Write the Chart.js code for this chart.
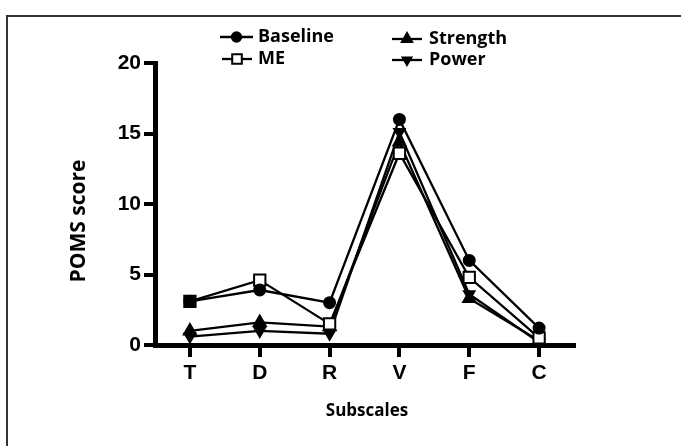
<!DOCTYPE html>
<html>
<head>
<meta charset="utf-8">
<script src="https://cdn.jsdelivr.net/npm/chart.js@4.4.1/dist/chart.umd.min.js"></script>
<style>
  html, body { margin: 0; padding: 0; background: #fff; }
  #wrap { position: relative; width: 681px; height: 446px; }
  canvas { display: block; }
</style>
</head>
<body>
<div id="wrap"><canvas id="c" width="681" height="446"></canvas></div>
<script>
const categories = ['T', 'D', 'R', 'V', 'F', 'C'];
const seriesNames = ['Baseline', 'ME', 'Strength', 'Power'];
const baseline = [3.1, 3.9, 3.0, 16.0, 6.0, 1.2];
const me       = [3.1, 4.6, 1.5, 13.6, 4.8, 0.5];
const strength = [1.0, 1.6, 1.3, 14.4, 3.3, 0.3];
const power    = [0.6, 1.0, 0.8, 15.1, 3.6, 0.2];
const yTicks = [0, 5, 10, 15, 20];
const xTitle = 'Subscales';
const yTitle = 'POMS score';

const styles = [
  { pointStyle: 'circle',   pointRadius: 5.5, bg: '#000', rot: 0 },
  { pointStyle: 'rect',     pointRadius: 8,   bg: '#fff', rot: 0 },
  { pointStyle: 'triangle', pointRadius: 7,   bg: '#000', rot: 0 },
  { pointStyle: 'triangle', pointRadius: 6,   bg: '#000', rot: 180 }
];
const values = [baseline, me, strength, power];

const datasets = values.map((v, i) => ({
  label: seriesNames[i],
  data: v,
  borderColor: '#000',
  borderWidth: 2.3,
  pointStyle: styles[i].pointStyle,
  pointRadius: styles[i].pointRadius,
  pointHoverRadius: styles[i].pointRadius,
  pointBackgroundColor: styles[i].bg,
  pointBorderColor: '#000',
  pointBorderWidth: 2,
  pointRotation: styles[i].rot,
  tension: 0,
  fill: false
}));

const decor = {
  id: 'decor',
  beforeDraw(chart) {
    const ctx = chart.ctx;
    ctx.save();
    ctx.strokeStyle = '#333';
    ctx.lineWidth = 2;
    ctx.beginPath();
    ctx.moveTo(7, 446);
    ctx.lineTo(7, 16);
    ctx.lineTo(681, 16);
    ctx.stroke();
    ctx.restore();
  },
  afterDraw(chart) {
    const ctx = chart.ctx;
    ctx.save();
    ctx.fillStyle = '#000';
    ctx.textAlign = 'center';
    ctx.textBaseline = 'middle';
    ctx.font = 'bold 17px "Open Sans"';
    ctx.fillText(xTitle, 367, 411);
    ctx.save();
    ctx.translate(79, 221);
    ctx.rotate(-Math.PI / 2);
    ctx.font = 'bold 21px "Open Sans"';
    ctx.fillText(yTitle, 0, 0);
    ctx.restore();
    const items = [
      { x1: 220, x2: 253, y: 37, tx: 258 },
      { x1: 222, x2: 252, y: 59, tx: 258 },
      { x1: 392, x2: 422, y: 39, tx: 429 },
      { x1: 392, x2: 422, y: 60, tx: 429 }
    ];
    items.forEach((it, i) => {
      ctx.strokeStyle = '#000';
      ctx.lineWidth = 2.3;
      ctx.beginPath();
      ctx.moveTo(it.x1, it.y);
      ctx.lineTo(it.x2, it.y);
      ctx.stroke();
      ctx.fillStyle = styles[i].bg;
      ctx.strokeStyle = '#000';
      ctx.lineWidth = 2;
      Chart.helpers.drawPoint(ctx, {
        pointStyle: styles[i].pointStyle,
        radius: styles[i].pointRadius * 0.85,
        rotation: styles[i].rot,
        borderWidth: 2
      }, (it.x1 + it.x2) / 2, it.y);
      ctx.fillStyle = '#000';
      ctx.textAlign = 'left';
      ctx.textBaseline = 'middle';
      ctx.font = 'bold 18px "Open Sans"';
      ctx.fillText(seriesNames[i], it.tx, it.y);
    });
    ctx.restore();
  }
};

new Chart(document.getElementById('c'), {
  type: 'line',
  data: { labels: categories, datasets },
  options: {
    responsive: false,
    animation: false,
    events: [],
    layout: { padding: { left: 0, top: 63, right: 107, bottom: 0 } },
    plugins: { legend: { display: false }, tooltip: { enabled: false }, title: { display: false } },
    scales: {
      x: {
        type: 'category',
        offset: true,
        afterFit(s) { s.height = 101; },
        grid: { display: true, drawOnChartArea: false, drawTicks: true, tickLength: 12, tickWidth: 4, tickColor: '#000', offset: false, color: '#000', lineWidth: 4 },
        border: { display: true, color: '#000', width: 5 },
        ticks: { color: '#000', padding: 4, font: { family: '"Liberation Sans", Arial', size: 21, weight: 'bold' }, maxRotation: 0 }
      },
      y: {
        min: 0,
        max: 20,
        afterFit(s) { s.width = 155; },
        afterBuildTicks(s) { s.ticks = yTicks.map(v => ({ value: v })); },
        grid: { display: true, drawOnChartArea: false, drawTicks: true, tickLength: 11, tickWidth: 4, tickColor: '#000', color: '#000', lineWidth: 4 },
        border: { display: true, color: '#000', width: 5 },
        ticks: { color: '#000', padding: 3, font: { family: '"Liberation Sans", Arial', size: 21, weight: 'bold' } }
      }
    }
  },
  plugins: [decor]
});
</script>
</body>
</html>
